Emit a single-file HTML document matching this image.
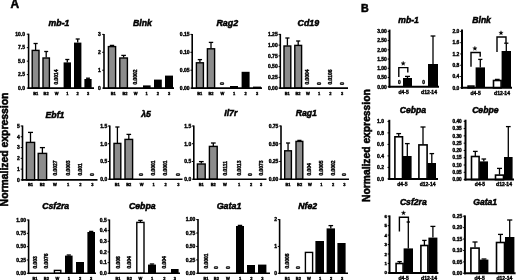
<!DOCTYPE html>
<html><head><meta charset="utf-8"><title>Figure</title>
<style>
html,body{margin:0;padding:0;background:#fff;}
body{width:520px;height:280px;overflow:hidden;font-family:"Liberation Sans",sans-serif;}
svg{display:block;will-change:transform;font-family:"Liberation Sans",sans-serif;}
svg text{font-weight:bold;fill:#000;stroke:#000;}
svg line,svg polyline{stroke:#000;}
</style></head><body>
<svg width="520" height="280" viewBox="0 0 520 280">
<rect x="0" y="0" width="520" height="280" fill="#fff"/>
<text x="59.00" y="26.00" font-size="8.7" text-anchor="middle" font-style="italic" stroke-width="0.5">mb-1</text>
<line x1="35.60" y1="43.50" x2="35.60" y2="50.00" stroke-width="1.3"/>
<line x1="33.51" y1="43.50" x2="37.69" y2="43.50" stroke-width="1.3"/>
<rect x="32.20" y="50.40" width="6.80" height="37.70" fill="#8c8c8c" stroke="#000" stroke-width="1.4"/>
<line x1="46.20" y1="51.50" x2="46.20" y2="57.60" stroke-width="1.3"/>
<line x1="44.22" y1="51.50" x2="48.18" y2="51.50" stroke-width="1.3"/>
<rect x="43.00" y="58.00" width="6.40" height="30.10" fill="#8c8c8c" stroke="#000" stroke-width="1.4"/>
<text x="58.36" y="84.50" font-size="4.9" text-anchor="start" transform="rotate(-90 58.36 84.50)" stroke-width="0.38">0.0014</text>
<line x1="67.30" y1="59.50" x2="67.30" y2="62.40" stroke-width="1.3"/>
<line x1="65.27" y1="59.50" x2="69.33" y2="59.50" stroke-width="1.3"/>
<rect x="63.60" y="62.40" width="7.40" height="25.70" fill="#000"/>
<line x1="77.70" y1="39.00" x2="77.70" y2="42.60" stroke-width="1.3"/>
<line x1="75.67" y1="39.00" x2="79.73" y2="39.00" stroke-width="1.3"/>
<rect x="74.00" y="42.60" width="7.40" height="45.50" fill="#000"/>
<line x1="88.00" y1="78.20" x2="88.00" y2="79.00" stroke-width="1.3"/>
<line x1="86.02" y1="78.20" x2="89.98" y2="78.20" stroke-width="1.3"/>
<rect x="84.40" y="79.00" width="7.20" height="9.10" fill="#000"/>
<line x1="28.60" y1="33.70" x2="28.60" y2="88.90" stroke-width="1.6"/>
<line x1="27.80" y1="88.10" x2="94.00" y2="88.10" stroke-width="1.6"/>
<line x1="26.80" y1="34.20" x2="28.60" y2="34.20" stroke-width="1.0"/>
<text x="25.00" y="36.00" font-size="5.0" text-anchor="end" stroke-width="0.38">10.0</text>
<line x1="26.80" y1="47.67" x2="28.60" y2="47.67" stroke-width="1.0"/>
<text x="25.00" y="49.47" font-size="5.0" text-anchor="end" stroke-width="0.38">7.5</text>
<line x1="26.80" y1="61.15" x2="28.60" y2="61.15" stroke-width="1.0"/>
<text x="25.00" y="62.95" font-size="5.0" text-anchor="end" stroke-width="0.38">5.0</text>
<line x1="26.80" y1="74.62" x2="28.60" y2="74.62" stroke-width="1.0"/>
<text x="25.00" y="76.42" font-size="5.0" text-anchor="end" stroke-width="0.38">2.5</text>
<line x1="26.80" y1="88.10" x2="28.60" y2="88.10" stroke-width="1.0"/>
<text x="25.00" y="89.90" font-size="5.0" text-anchor="end" stroke-width="0.38">0.0</text>
<text x="35.70" y="95.14" font-size="4.0" text-anchor="middle" stroke-width="0.38">B1</text>
<text x="46.10" y="95.14" font-size="4.0" text-anchor="middle" stroke-width="0.38">B2</text>
<text x="56.60" y="95.14" font-size="4.0" text-anchor="middle" stroke-width="0.38">W</text>
<text x="67.30" y="95.14" font-size="4.0" text-anchor="middle" stroke-width="0.38">1</text>
<text x="77.70" y="95.14" font-size="4.0" text-anchor="middle" stroke-width="0.38">2</text>
<text x="88.00" y="95.14" font-size="4.0" text-anchor="middle" stroke-width="0.38">3</text>
<text x="142.50" y="26.00" font-size="8.7" text-anchor="middle" font-style="italic" stroke-width="0.5">Blnk</text>
<line x1="112.00" y1="45.40" x2="112.00" y2="46.20" stroke-width="1.3"/>
<line x1="109.80" y1="45.40" x2="114.20" y2="45.40" stroke-width="1.3"/>
<rect x="108.40" y="46.60" width="7.20" height="41.50" fill="#8c8c8c" stroke="#000" stroke-width="1.4"/>
<line x1="123.60" y1="55.40" x2="123.60" y2="57.60" stroke-width="1.3"/>
<line x1="121.29" y1="55.40" x2="125.91" y2="55.40" stroke-width="1.3"/>
<rect x="119.80" y="58.00" width="7.60" height="30.10" fill="#8c8c8c" stroke="#000" stroke-width="1.4"/>
<text x="137.36" y="84.50" font-size="4.9" text-anchor="start" transform="rotate(-90 137.36 84.50)" stroke-width="0.38">0.0002</text>
<rect x="143.00" y="85.40" width="7.60" height="2.70" fill="#000"/>
<rect x="154.00" y="79.60" width="7.80" height="8.50" fill="#000"/>
<rect x="165.00" y="75.60" width="8.00" height="12.50" fill="#000"/>
<line x1="104.00" y1="33.90" x2="104.00" y2="88.90" stroke-width="1.6"/>
<line x1="103.20" y1="88.10" x2="174.00" y2="88.10" stroke-width="1.6"/>
<line x1="102.20" y1="34.40" x2="104.00" y2="34.40" stroke-width="1.0"/>
<text x="100.80" y="36.20" font-size="5.0" text-anchor="end" stroke-width="0.38">3</text>
<line x1="102.20" y1="52.30" x2="104.00" y2="52.30" stroke-width="1.0"/>
<text x="100.80" y="54.10" font-size="5.0" text-anchor="end" stroke-width="0.38">2</text>
<line x1="102.20" y1="70.20" x2="104.00" y2="70.20" stroke-width="1.0"/>
<text x="100.80" y="72.00" font-size="5.0" text-anchor="end" stroke-width="0.38">1</text>
<line x1="102.20" y1="88.10" x2="104.00" y2="88.10" stroke-width="1.0"/>
<text x="100.80" y="89.90" font-size="5.0" text-anchor="end" stroke-width="0.38">0</text>
<text x="113.20" y="95.14" font-size="4.0" text-anchor="middle" stroke-width="0.38">B1</text>
<text x="125.00" y="95.14" font-size="4.0" text-anchor="middle" stroke-width="0.38">B2</text>
<text x="135.60" y="95.14" font-size="4.0" text-anchor="middle" stroke-width="0.38">W</text>
<text x="146.70" y="95.14" font-size="4.0" text-anchor="middle" stroke-width="0.38">1</text>
<text x="157.80" y="95.14" font-size="4.0" text-anchor="middle" stroke-width="0.38">2</text>
<text x="169.00" y="95.14" font-size="4.0" text-anchor="middle" stroke-width="0.38">3</text>
<text x="227.30" y="25.60" font-size="8.9" text-anchor="middle" font-style="italic" stroke-width="0.5">Rag2</text>
<line x1="199.90" y1="59.60" x2="199.90" y2="62.40" stroke-width="1.3"/>
<line x1="197.75" y1="59.60" x2="202.05" y2="59.60" stroke-width="1.3"/>
<rect x="196.40" y="62.80" width="7.00" height="25.30" fill="#8c8c8c" stroke="#000" stroke-width="1.4"/>
<line x1="211.00" y1="42.40" x2="211.00" y2="48.40" stroke-width="1.3"/>
<line x1="208.80" y1="42.40" x2="213.20" y2="42.40" stroke-width="1.3"/>
<rect x="207.40" y="48.80" width="7.20" height="39.30" fill="#8c8c8c" stroke="#000" stroke-width="1.4"/>
<text x="224.16" y="85.00" font-size="4.9" text-anchor="start" transform="rotate(-90 224.16 85.00)" stroke-width="0.38">0</text>
<rect x="230.00" y="86.00" width="8.00" height="2.10" fill="#000"/>
<rect x="241.60" y="71.80" width="8.00" height="16.30" fill="#000"/>
<rect x="253.00" y="86.60" width="8.00" height="1.50" fill="#000"/>
<line x1="192.20" y1="33.90" x2="192.20" y2="88.90" stroke-width="1.6"/>
<line x1="191.40" y1="88.10" x2="262.00" y2="88.10" stroke-width="1.6"/>
<line x1="190.40" y1="34.40" x2="192.20" y2="34.40" stroke-width="1.0"/>
<text x="189.60" y="36.20" font-size="5.0" text-anchor="end" stroke-width="0.38">0.15</text>
<line x1="190.40" y1="52.30" x2="192.20" y2="52.30" stroke-width="1.0"/>
<text x="189.60" y="54.10" font-size="5.0" text-anchor="end" stroke-width="0.38">0.10</text>
<line x1="190.40" y1="70.20" x2="192.20" y2="70.20" stroke-width="1.0"/>
<text x="189.60" y="72.00" font-size="5.0" text-anchor="end" stroke-width="0.38">0.05</text>
<line x1="190.40" y1="88.10" x2="192.20" y2="88.10" stroke-width="1.0"/>
<text x="189.60" y="89.90" font-size="5.0" text-anchor="end" stroke-width="0.38">0.00</text>
<text x="199.80" y="95.14" font-size="4.0" text-anchor="middle" stroke-width="0.38">B1</text>
<text x="211.00" y="95.14" font-size="4.0" text-anchor="middle" stroke-width="0.38">B2</text>
<text x="222.40" y="95.14" font-size="4.0" text-anchor="middle" stroke-width="0.38">W</text>
<text x="234.00" y="95.14" font-size="4.0" text-anchor="middle" stroke-width="0.38">1</text>
<text x="245.60" y="95.14" font-size="4.0" text-anchor="middle" stroke-width="0.38">2</text>
<text x="257.00" y="95.14" font-size="4.0" text-anchor="middle" stroke-width="0.38">3</text>
<text x="308.30" y="25.60" font-size="8.8" text-anchor="middle" font-style="italic" stroke-width="0.5">Cd19</text>
<line x1="287.40" y1="38.00" x2="287.40" y2="45.60" stroke-width="1.3"/>
<line x1="285.31" y1="38.00" x2="289.49" y2="38.00" stroke-width="1.3"/>
<rect x="284.00" y="46.00" width="6.80" height="42.10" fill="#8c8c8c" stroke="#000" stroke-width="1.4"/>
<line x1="298.20" y1="41.00" x2="298.20" y2="45.00" stroke-width="1.3"/>
<line x1="296.11" y1="41.00" x2="300.29" y2="41.00" stroke-width="1.3"/>
<rect x="294.80" y="45.40" width="6.80" height="42.70" fill="#8c8c8c" stroke="#000" stroke-width="1.4"/>
<text x="309.16" y="84.50" font-size="4.9" text-anchor="start" transform="rotate(-90 309.16 84.50)" stroke-width="0.38">0.0004</text>
<text x="320.76" y="85.00" font-size="4.9" text-anchor="start" transform="rotate(-90 320.76 85.00)" stroke-width="0.38">0</text>
<text x="332.16" y="84.50" font-size="4.9" text-anchor="start" transform="rotate(-90 332.16 84.50)" stroke-width="0.38">0.0106</text>
<text x="343.76" y="85.00" font-size="4.9" text-anchor="start" transform="rotate(-90 343.76 85.00)" stroke-width="0.38">0</text>
<line x1="280.30" y1="33.90" x2="280.30" y2="88.90" stroke-width="1.6"/>
<line x1="279.50" y1="88.10" x2="348.00" y2="88.10" stroke-width="1.6"/>
<line x1="278.50" y1="34.40" x2="280.30" y2="34.40" stroke-width="1.0"/>
<text x="277.70" y="36.20" font-size="5.0" text-anchor="end" stroke-width="0.38">1.25</text>
<line x1="278.50" y1="45.14" x2="280.30" y2="45.14" stroke-width="1.0"/>
<text x="277.70" y="46.94" font-size="5.0" text-anchor="end" stroke-width="0.38">1.00</text>
<line x1="278.50" y1="55.88" x2="280.30" y2="55.88" stroke-width="1.0"/>
<text x="277.70" y="57.68" font-size="5.0" text-anchor="end" stroke-width="0.38">0.75</text>
<line x1="278.50" y1="66.62" x2="280.30" y2="66.62" stroke-width="1.0"/>
<text x="277.70" y="68.42" font-size="5.0" text-anchor="end" stroke-width="0.38">0.50</text>
<line x1="278.50" y1="77.36" x2="280.30" y2="77.36" stroke-width="1.0"/>
<text x="277.70" y="79.16" font-size="5.0" text-anchor="end" stroke-width="0.38">0.25</text>
<line x1="278.50" y1="88.10" x2="280.30" y2="88.10" stroke-width="1.0"/>
<text x="277.70" y="89.90" font-size="5.0" text-anchor="end" stroke-width="0.38">0.00</text>
<text x="287.30" y="95.14" font-size="4.0" text-anchor="middle" stroke-width="0.38">B1</text>
<text x="298.00" y="95.14" font-size="4.0" text-anchor="middle" stroke-width="0.38">B2</text>
<text x="308.00" y="95.14" font-size="4.0" text-anchor="middle" stroke-width="0.38">W</text>
<text x="319.00" y="95.14" font-size="4.0" text-anchor="middle" stroke-width="0.38">1</text>
<text x="330.40" y="95.14" font-size="4.0" text-anchor="middle" stroke-width="0.38">2</text>
<text x="342.00" y="95.14" font-size="4.0" text-anchor="middle" stroke-width="0.38">3</text>
<text x="55.00" y="118.00" font-size="8.7" text-anchor="middle" font-style="italic" stroke-width="0.5">Ebf1</text>
<line x1="30.50" y1="132.40" x2="30.50" y2="142.00" stroke-width="1.3"/>
<line x1="28.02" y1="132.40" x2="32.98" y2="132.40" stroke-width="1.3"/>
<rect x="26.40" y="142.40" width="8.20" height="37.50" fill="#8c8c8c" stroke="#000" stroke-width="1.4"/>
<line x1="42.40" y1="147.60" x2="42.40" y2="153.00" stroke-width="1.3"/>
<line x1="39.87" y1="147.60" x2="44.93" y2="147.60" stroke-width="1.3"/>
<rect x="38.20" y="153.40" width="8.40" height="26.50" fill="#8c8c8c" stroke="#000" stroke-width="1.4"/>
<text x="56.76" y="175.50" font-size="4.9" text-anchor="start" transform="rotate(-90 56.76 175.50)" stroke-width="0.38">0.0027</text>
<text x="69.76" y="175.50" font-size="4.9" text-anchor="start" transform="rotate(-90 69.76 175.50)" stroke-width="0.38">0.0003</text>
<text x="82.16" y="175.50" font-size="4.9" text-anchor="start" transform="rotate(-90 82.16 175.50)" stroke-width="0.38">0.001</text>
<text x="94.16" y="176.00" font-size="4.9" text-anchor="start" transform="rotate(-90 94.16 176.00)" stroke-width="0.38">0</text>
<line x1="22.50" y1="125.50" x2="22.50" y2="180.70" stroke-width="1.6"/>
<line x1="21.70" y1="179.90" x2="97.50" y2="179.90" stroke-width="1.6"/>
<line x1="20.70" y1="126.00" x2="22.50" y2="126.00" stroke-width="1.0"/>
<text x="19.90" y="127.80" font-size="5.0" text-anchor="end" stroke-width="0.38">5</text>
<line x1="20.70" y1="136.78" x2="22.50" y2="136.78" stroke-width="1.0"/>
<text x="19.90" y="138.58" font-size="5.0" text-anchor="end" stroke-width="0.38">4</text>
<line x1="20.70" y1="147.56" x2="22.50" y2="147.56" stroke-width="1.0"/>
<text x="19.90" y="149.36" font-size="5.0" text-anchor="end" stroke-width="0.38">3</text>
<line x1="20.70" y1="158.34" x2="22.50" y2="158.34" stroke-width="1.0"/>
<text x="19.90" y="160.14" font-size="5.0" text-anchor="end" stroke-width="0.38">2</text>
<line x1="20.70" y1="169.12" x2="22.50" y2="169.12" stroke-width="1.0"/>
<text x="19.90" y="170.92" font-size="5.0" text-anchor="end" stroke-width="0.38">1</text>
<line x1="20.70" y1="179.90" x2="22.50" y2="179.90" stroke-width="1.0"/>
<text x="19.90" y="181.70" font-size="5.0" text-anchor="end" stroke-width="0.38">0</text>
<text x="30.50" y="186.44" font-size="4.0" text-anchor="middle" stroke-width="0.38">B1</text>
<text x="42.30" y="186.44" font-size="4.0" text-anchor="middle" stroke-width="0.38">B2</text>
<text x="55.00" y="186.44" font-size="4.0" text-anchor="middle" stroke-width="0.38">W</text>
<text x="68.00" y="186.44" font-size="4.0" text-anchor="middle" stroke-width="0.38">1</text>
<text x="80.40" y="186.44" font-size="4.0" text-anchor="middle" stroke-width="0.38">2</text>
<text x="92.40" y="186.44" font-size="4.0" text-anchor="middle" stroke-width="0.38">3</text>
<text x="146.00" y="116.60" font-size="8.7" text-anchor="middle" font-style="italic" stroke-width="0.5">λ5</text>
<line x1="117.40" y1="127.00" x2="117.40" y2="143.00" stroke-width="1.3"/>
<line x1="115.31" y1="127.00" x2="119.49" y2="127.00" stroke-width="1.3"/>
<rect x="114.00" y="143.40" width="6.80" height="35.80" fill="#8c8c8c" stroke="#000" stroke-width="1.4"/>
<line x1="128.80" y1="134.40" x2="128.80" y2="139.00" stroke-width="1.3"/>
<line x1="126.49" y1="134.40" x2="131.11" y2="134.40" stroke-width="1.3"/>
<rect x="125.00" y="139.40" width="7.60" height="39.80" fill="#8c8c8c" stroke="#000" stroke-width="1.4"/>
<text x="143.36" y="176.00" font-size="4.9" text-anchor="start" transform="rotate(-90 143.36 176.00)" stroke-width="0.38">0</text>
<text x="155.36" y="175.50" font-size="4.9" text-anchor="start" transform="rotate(-90 155.36 175.50)" stroke-width="0.38">0.0001</text>
<text x="167.36" y="175.50" font-size="4.9" text-anchor="start" transform="rotate(-90 167.36 175.50)" stroke-width="0.38">0.0001</text>
<text x="180.06" y="176.00" font-size="4.9" text-anchor="start" transform="rotate(-90 180.06 176.00)" stroke-width="0.38">0</text>
<line x1="109.80" y1="125.50" x2="109.80" y2="180.00" stroke-width="1.6"/>
<line x1="109.00" y1="179.20" x2="182.50" y2="179.20" stroke-width="1.6"/>
<line x1="108.00" y1="126.00" x2="109.80" y2="126.00" stroke-width="1.0"/>
<text x="107.20" y="127.80" font-size="5.0" text-anchor="end" stroke-width="0.38">1.5</text>
<line x1="108.00" y1="143.73" x2="109.80" y2="143.73" stroke-width="1.0"/>
<text x="107.20" y="145.53" font-size="5.0" text-anchor="end" stroke-width="0.38">1.0</text>
<line x1="108.00" y1="161.47" x2="109.80" y2="161.47" stroke-width="1.0"/>
<text x="107.20" y="163.27" font-size="5.0" text-anchor="end" stroke-width="0.38">0.5</text>
<line x1="108.00" y1="179.20" x2="109.80" y2="179.20" stroke-width="1.0"/>
<text x="107.20" y="181.00" font-size="5.0" text-anchor="end" stroke-width="0.38">0.0</text>
<text x="117.30" y="186.44" font-size="4.0" text-anchor="middle" stroke-width="0.38">B1</text>
<text x="128.70" y="186.44" font-size="4.0" text-anchor="middle" stroke-width="0.38">B2</text>
<text x="141.60" y="186.44" font-size="4.0" text-anchor="middle" stroke-width="0.38">W</text>
<text x="153.60" y="186.44" font-size="4.0" text-anchor="middle" stroke-width="0.38">1</text>
<text x="165.60" y="186.44" font-size="4.0" text-anchor="middle" stroke-width="0.38">2</text>
<text x="178.40" y="186.44" font-size="4.0" text-anchor="middle" stroke-width="0.38">3</text>
<text x="230.80" y="116.00" font-size="8.7" text-anchor="middle" font-style="italic" stroke-width="0.5">Il7r</text>
<line x1="201.30" y1="161.60" x2="201.30" y2="163.60" stroke-width="1.3"/>
<line x1="198.94" y1="161.60" x2="203.67" y2="161.60" stroke-width="1.3"/>
<rect x="197.40" y="164.00" width="7.80" height="15.20" fill="#8c8c8c" stroke="#000" stroke-width="1.4"/>
<line x1="213.30" y1="143.00" x2="213.30" y2="146.00" stroke-width="1.3"/>
<line x1="210.94" y1="143.00" x2="215.67" y2="143.00" stroke-width="1.3"/>
<rect x="209.40" y="146.40" width="7.80" height="32.80" fill="#8c8c8c" stroke="#000" stroke-width="1.4"/>
<text x="226.76" y="175.50" font-size="4.9" text-anchor="start" transform="rotate(-90 226.76 175.50)" stroke-width="0.38">0.0111</text>
<text x="240.76" y="175.50" font-size="4.9" text-anchor="start" transform="rotate(-90 240.76 175.50)" stroke-width="0.38">0.0013</text>
<text x="251.76" y="176.00" font-size="4.9" text-anchor="start" transform="rotate(-90 251.76 176.00)" stroke-width="0.38">0</text>
<text x="262.76" y="175.50" font-size="4.9" text-anchor="start" transform="rotate(-90 262.76 175.50)" stroke-width="0.38">0.0073</text>
<line x1="193.80" y1="125.50" x2="193.80" y2="180.00" stroke-width="1.6"/>
<line x1="193.00" y1="179.20" x2="266.50" y2="179.20" stroke-width="1.6"/>
<line x1="192.00" y1="126.00" x2="193.80" y2="126.00" stroke-width="1.0"/>
<text x="191.20" y="127.80" font-size="5.0" text-anchor="end" stroke-width="0.38">1.5</text>
<line x1="192.00" y1="143.73" x2="193.80" y2="143.73" stroke-width="1.0"/>
<text x="191.20" y="145.53" font-size="5.0" text-anchor="end" stroke-width="0.38">1.0</text>
<line x1="192.00" y1="161.47" x2="193.80" y2="161.47" stroke-width="1.0"/>
<text x="191.20" y="163.27" font-size="5.0" text-anchor="end" stroke-width="0.38">0.5</text>
<line x1="192.00" y1="179.20" x2="193.80" y2="179.20" stroke-width="1.0"/>
<text x="191.20" y="181.00" font-size="5.0" text-anchor="end" stroke-width="0.38">0.0</text>
<text x="201.30" y="186.44" font-size="4.0" text-anchor="middle" stroke-width="0.38">B1</text>
<text x="213.30" y="186.44" font-size="4.0" text-anchor="middle" stroke-width="0.38">B2</text>
<text x="225.00" y="186.44" font-size="4.0" text-anchor="middle" stroke-width="0.38">W</text>
<text x="239.00" y="186.44" font-size="4.0" text-anchor="middle" stroke-width="0.38">1</text>
<text x="251.00" y="186.44" font-size="4.0" text-anchor="middle" stroke-width="0.38">2</text>
<text x="261.00" y="186.44" font-size="4.0" text-anchor="middle" stroke-width="0.38">3</text>
<text x="306.30" y="115.70" font-size="8.7" text-anchor="middle" font-style="italic" stroke-width="0.5">Rag1</text>
<line x1="288.05" y1="143.00" x2="288.05" y2="150.40" stroke-width="1.3"/>
<line x1="285.99" y1="143.00" x2="290.11" y2="143.00" stroke-width="1.3"/>
<rect x="284.70" y="150.80" width="6.70" height="28.40" fill="#8c8c8c" stroke="#000" stroke-width="1.4"/>
<line x1="299.40" y1="140.40" x2="299.40" y2="141.00" stroke-width="1.3"/>
<line x1="297.31" y1="140.40" x2="301.49" y2="140.40" stroke-width="1.3"/>
<rect x="296.00" y="141.40" width="6.80" height="37.80" fill="#8c8c8c" stroke="#000" stroke-width="1.4"/>
<text x="311.36" y="175.50" font-size="4.9" text-anchor="start" transform="rotate(-90 311.36 175.50)" stroke-width="0.38">0.004</text>
<text x="323.16" y="175.50" font-size="4.9" text-anchor="start" transform="rotate(-90 323.16 175.50)" stroke-width="0.38">0.0005</text>
<text x="334.76" y="175.50" font-size="4.9" text-anchor="start" transform="rotate(-90 334.76 175.50)" stroke-width="0.38">0.0002</text>
<text x="346.16" y="176.00" font-size="4.9" text-anchor="start" transform="rotate(-90 346.16 176.00)" stroke-width="0.38">0</text>
<line x1="281.00" y1="125.50" x2="281.00" y2="180.00" stroke-width="1.6"/>
<line x1="280.20" y1="179.20" x2="349.00" y2="179.20" stroke-width="1.6"/>
<line x1="279.20" y1="126.00" x2="281.00" y2="126.00" stroke-width="1.0"/>
<text x="278.40" y="127.80" font-size="5.0" text-anchor="end" stroke-width="0.38">0.75</text>
<line x1="279.20" y1="143.73" x2="281.00" y2="143.73" stroke-width="1.0"/>
<text x="278.40" y="145.53" font-size="5.0" text-anchor="end" stroke-width="0.38">0.50</text>
<line x1="279.20" y1="161.47" x2="281.00" y2="161.47" stroke-width="1.0"/>
<text x="278.40" y="163.27" font-size="5.0" text-anchor="end" stroke-width="0.38">0.25</text>
<line x1="279.20" y1="179.20" x2="281.00" y2="179.20" stroke-width="1.0"/>
<text x="278.40" y="181.00" font-size="5.0" text-anchor="end" stroke-width="0.38">0.00</text>
<text x="288.00" y="186.44" font-size="4.0" text-anchor="middle" stroke-width="0.38">B1</text>
<text x="299.60" y="186.44" font-size="4.0" text-anchor="middle" stroke-width="0.38">B2</text>
<text x="310.00" y="186.44" font-size="4.0" text-anchor="middle" stroke-width="0.38">W</text>
<text x="321.40" y="186.44" font-size="4.0" text-anchor="middle" stroke-width="0.38">1</text>
<text x="333.00" y="186.44" font-size="4.0" text-anchor="middle" stroke-width="0.38">2</text>
<text x="344.40" y="186.44" font-size="4.0" text-anchor="middle" stroke-width="0.38">3</text>
<text x="55.70" y="208.60" font-size="8.6" text-anchor="middle" font-style="italic" stroke-width="0.5">Csf2ra</text>
<text x="36.76" y="268.50" font-size="4.9" text-anchor="start" transform="rotate(-90 36.76 268.50)" stroke-width="0.38">0.003</text>
<text x="48.16" y="268.50" font-size="4.9" text-anchor="start" transform="rotate(-90 48.16 268.50)" stroke-width="0.38">0.0076</text>
<rect x="54.40" y="270.40" width="6.40" height="2.90" fill="#fff" stroke="#000" stroke-width="1.4"/>
<line x1="68.80" y1="255.00" x2="68.80" y2="255.60" stroke-width="1.3"/>
<line x1="66.71" y1="255.00" x2="70.89" y2="255.00" stroke-width="1.3"/>
<rect x="65.00" y="255.60" width="7.60" height="17.70" fill="#000"/>
<rect x="76.00" y="262.00" width="8.00" height="11.30" fill="#000"/>
<line x1="91.20" y1="231.40" x2="91.20" y2="232.00" stroke-width="1.3"/>
<line x1="89.11" y1="231.40" x2="93.29" y2="231.40" stroke-width="1.3"/>
<rect x="87.40" y="232.00" width="7.60" height="41.30" fill="#000"/>
<line x1="28.60" y1="219.50" x2="28.60" y2="274.10" stroke-width="1.6"/>
<line x1="27.80" y1="273.30" x2="96.00" y2="273.30" stroke-width="1.6"/>
<line x1="26.80" y1="220.00" x2="28.60" y2="220.00" stroke-width="1.0"/>
<text x="26.00" y="221.80" font-size="5.0" text-anchor="end" stroke-width="0.38">1.00</text>
<line x1="26.80" y1="233.32" x2="28.60" y2="233.32" stroke-width="1.0"/>
<text x="26.00" y="235.12" font-size="5.0" text-anchor="end" stroke-width="0.38">0.75</text>
<line x1="26.80" y1="246.65" x2="28.60" y2="246.65" stroke-width="1.0"/>
<text x="26.00" y="248.45" font-size="5.0" text-anchor="end" stroke-width="0.38">0.50</text>
<line x1="26.80" y1="259.98" x2="28.60" y2="259.98" stroke-width="1.0"/>
<text x="26.00" y="261.78" font-size="5.0" text-anchor="end" stroke-width="0.38">0.25</text>
<line x1="26.80" y1="273.30" x2="28.60" y2="273.30" stroke-width="1.0"/>
<text x="26.00" y="275.10" font-size="5.0" text-anchor="end" stroke-width="0.38">0.00</text>
<text x="35.00" y="279.84" font-size="4.0" text-anchor="middle" stroke-width="0.38">B1</text>
<text x="46.40" y="279.84" font-size="4.0" text-anchor="middle" stroke-width="0.38">B2</text>
<text x="57.50" y="279.84" font-size="4.0" text-anchor="middle" stroke-width="0.38">W</text>
<text x="68.80" y="279.84" font-size="4.0" text-anchor="middle" stroke-width="0.38">1</text>
<text x="80.00" y="279.84" font-size="4.0" text-anchor="middle" stroke-width="0.38">2</text>
<text x="91.20" y="279.84" font-size="4.0" text-anchor="middle" stroke-width="0.38">3</text>
<text x="142.30" y="209.10" font-size="8.7" text-anchor="middle" font-style="italic" stroke-width="0.5">Cebpa</text>
<text x="119.76" y="268.50" font-size="4.9" text-anchor="start" transform="rotate(-90 119.76 268.50)" stroke-width="0.38">0.008</text>
<text x="131.16" y="268.50" font-size="4.9" text-anchor="start" transform="rotate(-90 131.16 268.50)" stroke-width="0.38">0.004</text>
<line x1="140.40" y1="220.40" x2="140.40" y2="222.00" stroke-width="1.3"/>
<line x1="138.20" y1="220.40" x2="142.60" y2="220.40" stroke-width="1.3"/>
<rect x="136.80" y="222.40" width="7.20" height="50.90" fill="#fff" stroke="#000" stroke-width="1.4"/>
<line x1="152.00" y1="264.00" x2="152.00" y2="264.60" stroke-width="1.3"/>
<line x1="149.80" y1="264.00" x2="154.20" y2="264.00" stroke-width="1.3"/>
<rect x="148.00" y="264.60" width="8.00" height="8.70" fill="#000"/>
<text x="166.16" y="268.50" font-size="4.9" text-anchor="start" transform="rotate(-90 166.16 268.50)" stroke-width="0.38">0.004</text>
<rect x="171.00" y="269.00" width="7.60" height="4.30" fill="#000"/>
<line x1="109.40" y1="219.50" x2="109.40" y2="274.10" stroke-width="1.6"/>
<line x1="108.60" y1="273.30" x2="180.00" y2="273.30" stroke-width="1.6"/>
<line x1="107.60" y1="220.00" x2="109.40" y2="220.00" stroke-width="1.0"/>
<text x="106.80" y="221.80" font-size="5.0" text-anchor="end" stroke-width="0.38">0.5</text>
<line x1="107.60" y1="230.66" x2="109.40" y2="230.66" stroke-width="1.0"/>
<text x="106.80" y="232.46" font-size="5.0" text-anchor="end" stroke-width="0.38">0.4</text>
<line x1="107.60" y1="241.32" x2="109.40" y2="241.32" stroke-width="1.0"/>
<text x="106.80" y="243.12" font-size="5.0" text-anchor="end" stroke-width="0.38">0.3</text>
<line x1="107.60" y1="251.98" x2="109.40" y2="251.98" stroke-width="1.0"/>
<text x="106.80" y="253.78" font-size="5.0" text-anchor="end" stroke-width="0.38">0.2</text>
<line x1="107.60" y1="262.64" x2="109.40" y2="262.64" stroke-width="1.0"/>
<text x="106.80" y="264.44" font-size="5.0" text-anchor="end" stroke-width="0.38">0.1</text>
<line x1="107.60" y1="273.30" x2="109.40" y2="273.30" stroke-width="1.0"/>
<text x="106.80" y="275.10" font-size="5.0" text-anchor="end" stroke-width="0.38">0.0</text>
<text x="118.00" y="279.84" font-size="4.0" text-anchor="middle" stroke-width="0.38">B1</text>
<text x="129.40" y="279.84" font-size="4.0" text-anchor="middle" stroke-width="0.38">B2</text>
<text x="140.40" y="279.84" font-size="4.0" text-anchor="middle" stroke-width="0.38">W</text>
<text x="152.00" y="279.84" font-size="4.0" text-anchor="middle" stroke-width="0.38">1</text>
<text x="164.40" y="279.84" font-size="4.0" text-anchor="middle" stroke-width="0.38">2</text>
<text x="174.80" y="279.84" font-size="4.0" text-anchor="middle" stroke-width="0.38">3</text>
<text x="229.00" y="208.80" font-size="8.9" text-anchor="middle" font-style="italic" stroke-width="0.5">Gata1</text>
<text x="208.36" y="268.50" font-size="4.9" text-anchor="start" transform="rotate(-90 208.36 268.50)" stroke-width="0.38">0.0001</text>
<text x="218.16" y="269.00" font-size="4.9" text-anchor="start" transform="rotate(-90 218.16 269.00)" stroke-width="0.38">0</text>
<text x="229.76" y="269.00" font-size="4.9" text-anchor="start" transform="rotate(-90 229.76 269.00)" stroke-width="0.38">0</text>
<line x1="240.00" y1="225.40" x2="240.00" y2="226.00" stroke-width="1.3"/>
<line x1="237.80" y1="225.40" x2="242.20" y2="225.40" stroke-width="1.3"/>
<rect x="236.00" y="226.00" width="8.00" height="47.30" fill="#000"/>
<rect x="247.00" y="265.00" width="8.00" height="8.30" fill="#000"/>
<rect x="258.00" y="264.60" width="8.40" height="8.70" fill="#000"/>
<line x1="198.00" y1="219.10" x2="198.00" y2="274.10" stroke-width="1.6"/>
<line x1="197.20" y1="273.30" x2="270.00" y2="273.30" stroke-width="1.6"/>
<line x1="196.20" y1="219.60" x2="198.00" y2="219.60" stroke-width="1.0"/>
<text x="195.40" y="221.40" font-size="5.0" text-anchor="end" stroke-width="0.38">1.00</text>
<line x1="196.20" y1="233.03" x2="198.00" y2="233.03" stroke-width="1.0"/>
<text x="195.40" y="234.83" font-size="5.0" text-anchor="end" stroke-width="0.38">0.75</text>
<line x1="196.20" y1="246.45" x2="198.00" y2="246.45" stroke-width="1.0"/>
<text x="195.40" y="248.25" font-size="5.0" text-anchor="end" stroke-width="0.38">0.50</text>
<line x1="196.20" y1="259.88" x2="198.00" y2="259.88" stroke-width="1.0"/>
<text x="195.40" y="261.68" font-size="5.0" text-anchor="end" stroke-width="0.38">0.25</text>
<line x1="196.20" y1="273.30" x2="198.00" y2="273.30" stroke-width="1.0"/>
<text x="195.40" y="275.10" font-size="5.0" text-anchor="end" stroke-width="0.38">0.00</text>
<text x="206.00" y="279.84" font-size="4.0" text-anchor="middle" stroke-width="0.38">B1</text>
<text x="216.40" y="279.84" font-size="4.0" text-anchor="middle" stroke-width="0.38">B2</text>
<text x="228.00" y="279.84" font-size="4.0" text-anchor="middle" stroke-width="0.38">W</text>
<text x="240.00" y="279.84" font-size="4.0" text-anchor="middle" stroke-width="0.38">1</text>
<text x="251.40" y="279.84" font-size="4.0" text-anchor="middle" stroke-width="0.38">2</text>
<text x="262.40" y="279.84" font-size="4.0" text-anchor="middle" stroke-width="0.38">3</text>
<text x="307.70" y="208.90" font-size="8.7" text-anchor="middle" font-style="italic" stroke-width="0.5">Nfe2</text>
<text x="288.76" y="268.50" font-size="4.9" text-anchor="start" transform="rotate(-90 288.76 268.50)" stroke-width="0.38">0.0008</text>
<text x="300.16" y="269.00" font-size="4.9" text-anchor="start" transform="rotate(-90 300.16 269.00)" stroke-width="0.38">0</text>
<rect x="305.40" y="252.40" width="7.20" height="20.90" fill="#fff" stroke="#000" stroke-width="1.4"/>
<rect x="315.40" y="241.00" width="8.60" height="32.30" fill="#000"/>
<line x1="330.80" y1="225.60" x2="330.80" y2="228.40" stroke-width="1.3"/>
<line x1="328.49" y1="225.60" x2="333.11" y2="225.60" stroke-width="1.3"/>
<rect x="326.60" y="228.40" width="8.40" height="44.90" fill="#000"/>
<rect x="337.40" y="243.00" width="8.20" height="30.30" fill="#000"/>
<line x1="279.60" y1="219.10" x2="279.60" y2="274.10" stroke-width="1.6"/>
<line x1="278.80" y1="273.30" x2="348.00" y2="273.30" stroke-width="1.6"/>
<line x1="277.80" y1="219.60" x2="279.60" y2="219.60" stroke-width="1.0"/>
<text x="277.00" y="221.40" font-size="5.0" text-anchor="end" stroke-width="0.38">2</text>
<line x1="277.80" y1="246.45" x2="279.60" y2="246.45" stroke-width="1.0"/>
<text x="277.00" y="248.25" font-size="5.0" text-anchor="end" stroke-width="0.38">1</text>
<line x1="277.80" y1="273.30" x2="279.60" y2="273.30" stroke-width="1.0"/>
<text x="277.00" y="275.10" font-size="5.0" text-anchor="end" stroke-width="0.38">0</text>
<text x="287.40" y="279.84" font-size="4.0" text-anchor="middle" stroke-width="0.38">B1</text>
<text x="298.40" y="279.84" font-size="4.0" text-anchor="middle" stroke-width="0.38">B2</text>
<text x="309.00" y="279.84" font-size="4.0" text-anchor="middle" stroke-width="0.38">W</text>
<text x="320.00" y="279.84" font-size="4.0" text-anchor="middle" stroke-width="0.38">1</text>
<text x="331.00" y="279.84" font-size="4.0" text-anchor="middle" stroke-width="0.38">2</text>
<text x="342.00" y="279.84" font-size="4.0" text-anchor="middle" stroke-width="0.38">3</text>
<text x="408.60" y="23.40" font-size="8.6" text-anchor="middle" font-style="italic" stroke-width="0.5">mb-1</text>
<text x="399.40" y="84.00" font-size="4.9" text-anchor="middle" stroke-width="0.38">0</text>
<line x1="407.50" y1="76.40" x2="407.50" y2="78.00" stroke-width="1.3"/>
<line x1="405.02" y1="76.40" x2="409.98" y2="76.40" stroke-width="1.3"/>
<rect x="403.00" y="78.00" width="9.00" height="8.70" fill="#000"/>
<text x="423.60" y="84.00" font-size="4.9" text-anchor="middle" stroke-width="0.38">0</text>
<line x1="433.00" y1="36.00" x2="433.00" y2="64.00" stroke-width="1.3"/>
<line x1="430.60" y1="36.00" x2="435.40" y2="36.00" stroke-width="1.3"/>
<rect x="428.00" y="64.00" width="10.00" height="22.70" fill="#000"/>
<line x1="389.50" y1="29.60" x2="389.50" y2="87.70" stroke-width="2.0"/>
<line x1="388.50" y1="86.70" x2="439.00" y2="86.70" stroke-width="2.0"/>
<line x1="387.70" y1="31.40" x2="389.50" y2="31.40" stroke-width="1.0"/>
<text x="386.90" y="33.20" font-size="5.0" text-anchor="end" stroke-width="0.38">3.00</text>
<line x1="387.70" y1="40.62" x2="389.50" y2="40.62" stroke-width="1.0"/>
<text x="386.90" y="42.42" font-size="5.0" text-anchor="end" stroke-width="0.38">2.50</text>
<line x1="387.70" y1="49.83" x2="389.50" y2="49.83" stroke-width="1.0"/>
<text x="386.90" y="51.63" font-size="5.0" text-anchor="end" stroke-width="0.38">2.00</text>
<line x1="387.70" y1="59.05" x2="389.50" y2="59.05" stroke-width="1.0"/>
<text x="386.90" y="60.85" font-size="5.0" text-anchor="end" stroke-width="0.38">1.50</text>
<line x1="387.70" y1="68.27" x2="389.50" y2="68.27" stroke-width="1.0"/>
<text x="386.90" y="70.07" font-size="5.0" text-anchor="end" stroke-width="0.38">1.00</text>
<line x1="387.70" y1="77.48" x2="389.50" y2="77.48" stroke-width="1.0"/>
<text x="386.90" y="79.28" font-size="5.0" text-anchor="end" stroke-width="0.38">0.50</text>
<line x1="387.70" y1="86.70" x2="389.50" y2="86.70" stroke-width="1.0"/>
<text x="386.90" y="88.50" font-size="5.0" text-anchor="end" stroke-width="0.38">0.00</text>
<text x="403.60" y="93.80" font-size="5.0" text-anchor="middle" stroke-width="0.38">d4-5</text>
<text x="429.00" y="93.80" font-size="5.0" text-anchor="middle" stroke-width="0.38">d12-14</text>
<polyline points="398.80,77.00 398.80,67.60 407.80,67.60 407.80,72.50" fill="none" stroke="#000" stroke-width="1.4"/>
<polygon points="403.20,61.20 403.77,62.72 405.39,62.79 404.12,63.80 404.55,65.36 403.20,64.47 401.85,65.36 402.28,63.80 401.01,62.79 402.63,62.72" fill="#000" stroke="#000" stroke-width="0.3"/>
<text x="481.60" y="23.10" font-size="8.6" text-anchor="middle" font-style="italic" stroke-width="0.5">Blnk</text>
<rect x="468.10" y="86.10" width="5.80" height="1.70" fill="#fff" stroke="#000" stroke-width="1.6"/>
<line x1="480.30" y1="59.40" x2="480.30" y2="67.40" stroke-width="1.3"/>
<line x1="478.20" y1="59.40" x2="482.40" y2="59.40" stroke-width="1.3"/>
<rect x="475.60" y="67.40" width="9.40" height="20.40" fill="#000"/>
<line x1="497.30" y1="79.40" x2="497.30" y2="80.00" stroke-width="1.3"/>
<line x1="494.94" y1="79.40" x2="499.67" y2="79.40" stroke-width="1.3"/>
<rect x="493.50" y="80.50" width="7.60" height="7.30" fill="#fff" stroke="#000" stroke-width="1.6"/>
<line x1="506.30" y1="43.20" x2="506.30" y2="51.00" stroke-width="1.3"/>
<line x1="504.20" y1="43.20" x2="508.40" y2="43.20" stroke-width="1.3"/>
<rect x="501.60" y="51.00" width="9.40" height="36.80" fill="#000"/>
<line x1="462.00" y1="29.40" x2="462.00" y2="88.80" stroke-width="2.0"/>
<line x1="461.00" y1="87.80" x2="512.00" y2="87.80" stroke-width="2.0"/>
<line x1="460.20" y1="31.40" x2="462.00" y2="31.40" stroke-width="1.0"/>
<text x="459.40" y="33.20" font-size="5.0" text-anchor="end" stroke-width="0.38">2.0</text>
<line x1="460.20" y1="42.68" x2="462.00" y2="42.68" stroke-width="1.0"/>
<text x="459.40" y="44.48" font-size="5.0" text-anchor="end" stroke-width="0.38">1.6</text>
<line x1="460.20" y1="53.96" x2="462.00" y2="53.96" stroke-width="1.0"/>
<text x="459.40" y="55.76" font-size="5.0" text-anchor="end" stroke-width="0.38">1.2</text>
<line x1="460.20" y1="65.24" x2="462.00" y2="65.24" stroke-width="1.0"/>
<text x="459.40" y="67.04" font-size="5.0" text-anchor="end" stroke-width="0.38">0.8</text>
<line x1="460.20" y1="76.52" x2="462.00" y2="76.52" stroke-width="1.0"/>
<text x="459.40" y="78.32" font-size="5.0" text-anchor="end" stroke-width="0.38">0.4</text>
<line x1="460.20" y1="87.80" x2="462.00" y2="87.80" stroke-width="1.0"/>
<text x="459.40" y="89.60" font-size="5.0" text-anchor="end" stroke-width="0.38">0.0</text>
<text x="475.60" y="95.00" font-size="5.0" text-anchor="middle" stroke-width="0.38">d4-5</text>
<text x="502.00" y="95.00" font-size="5.0" text-anchor="middle" stroke-width="0.38">d12-14</text>
<polyline points="471.00,66.80 471.00,52.50 480.20,52.50 480.20,56.80" fill="none" stroke="#000" stroke-width="1.4"/>
<polygon points="474.90,46.20 475.47,47.72 477.09,47.79 475.82,48.80 476.25,50.36 474.90,49.47 473.55,50.36 473.98,48.80 472.71,47.79 474.33,47.72" fill="#000" stroke="#000" stroke-width="0.3"/>
<polyline points="497.00,52.00 497.00,37.00 506.00,37.00 506.00,43.00" fill="none" stroke="#000" stroke-width="1.4"/>
<polygon points="501.00,30.70 501.57,32.22 503.19,32.29 501.92,33.30 502.35,34.86 501.00,33.97 499.65,34.86 500.08,33.30 498.81,32.29 500.43,32.22" fill="#000" stroke="#000" stroke-width="0.3"/>
<text x="412.90" y="112.70" font-size="8.6" text-anchor="middle" font-style="italic" stroke-width="0.5">Cebpa</text>
<line x1="398.70" y1="133.60" x2="398.70" y2="136.30" stroke-width="1.3"/>
<line x1="396.33" y1="133.60" x2="401.06" y2="133.60" stroke-width="1.3"/>
<rect x="394.90" y="136.80" width="7.60" height="42.10" fill="#fff" stroke="#000" stroke-width="1.6"/>
<line x1="407.30" y1="143.60" x2="407.30" y2="156.00" stroke-width="1.3"/>
<line x1="404.94" y1="143.60" x2="409.67" y2="143.60" stroke-width="1.3"/>
<rect x="403.00" y="156.00" width="8.60" height="22.90" fill="#000"/>
<line x1="423.00" y1="127.00" x2="423.00" y2="144.40" stroke-width="1.3"/>
<line x1="420.47" y1="127.00" x2="425.53" y2="127.00" stroke-width="1.3"/>
<rect x="418.90" y="144.90" width="8.20" height="34.00" fill="#fff" stroke="#000" stroke-width="1.6"/>
<line x1="431.80" y1="153.60" x2="431.80" y2="163.00" stroke-width="1.3"/>
<line x1="429.49" y1="153.60" x2="434.11" y2="153.60" stroke-width="1.3"/>
<rect x="427.60" y="163.00" width="8.40" height="15.90" fill="#000"/>
<line x1="389.30" y1="119.80" x2="389.30" y2="179.90" stroke-width="2.0"/>
<line x1="388.30" y1="178.90" x2="438.00" y2="178.90" stroke-width="2.0"/>
<line x1="387.50" y1="121.40" x2="389.30" y2="121.40" stroke-width="1.0"/>
<text x="384.00" y="123.20" font-size="5.0" text-anchor="end" stroke-width="0.38">1.0</text>
<line x1="387.50" y1="132.90" x2="389.30" y2="132.90" stroke-width="1.0"/>
<text x="384.00" y="134.70" font-size="5.0" text-anchor="end" stroke-width="0.38">0.8</text>
<line x1="387.50" y1="144.40" x2="389.30" y2="144.40" stroke-width="1.0"/>
<text x="384.00" y="146.20" font-size="5.0" text-anchor="end" stroke-width="0.38">0.6</text>
<line x1="387.50" y1="155.90" x2="389.30" y2="155.90" stroke-width="1.0"/>
<text x="384.00" y="157.70" font-size="5.0" text-anchor="end" stroke-width="0.38">0.4</text>
<line x1="387.50" y1="167.40" x2="389.30" y2="167.40" stroke-width="1.0"/>
<text x="384.00" y="169.20" font-size="5.0" text-anchor="end" stroke-width="0.38">0.2</text>
<line x1="387.50" y1="178.90" x2="389.30" y2="178.90" stroke-width="1.0"/>
<text x="384.00" y="180.70" font-size="5.0" text-anchor="end" stroke-width="0.38">0.0</text>
<text x="402.40" y="185.80" font-size="5.0" text-anchor="middle" stroke-width="0.38">d4-5</text>
<text x="427.60" y="185.80" font-size="5.0" text-anchor="middle" stroke-width="0.38">d12-14</text>
<text x="485.30" y="112.70" font-size="8.6" text-anchor="middle" font-style="italic" stroke-width="0.5">Cebpe</text>
<line x1="475.30" y1="151.40" x2="475.30" y2="156.00" stroke-width="1.3"/>
<line x1="472.94" y1="151.40" x2="477.67" y2="151.40" stroke-width="1.3"/>
<rect x="471.50" y="156.50" width="7.60" height="23.10" fill="#fff" stroke="#000" stroke-width="1.6"/>
<line x1="483.80" y1="159.00" x2="483.80" y2="161.40" stroke-width="1.3"/>
<line x1="481.49" y1="159.00" x2="486.11" y2="159.00" stroke-width="1.3"/>
<rect x="479.60" y="161.40" width="8.40" height="18.20" fill="#000"/>
<line x1="499.50" y1="168.40" x2="499.50" y2="174.60" stroke-width="1.3"/>
<line x1="497.02" y1="168.40" x2="501.98" y2="168.40" stroke-width="1.3"/>
<rect x="495.50" y="175.10" width="8.00" height="4.50" fill="#fff" stroke="#000" stroke-width="1.6"/>
<line x1="508.30" y1="126.60" x2="508.30" y2="157.00" stroke-width="1.3"/>
<line x1="505.94" y1="126.60" x2="510.67" y2="126.60" stroke-width="1.3"/>
<rect x="504.00" y="157.00" width="8.60" height="22.60" fill="#000"/>
<line x1="465.50" y1="119.70" x2="465.50" y2="180.60" stroke-width="2.0"/>
<line x1="464.50" y1="179.60" x2="514.00" y2="179.60" stroke-width="2.0"/>
<line x1="463.70" y1="121.30" x2="465.50" y2="121.30" stroke-width="1.0"/>
<text x="461.70" y="122.99" font-size="4.7" text-anchor="end" stroke-width="0.38">0.40</text>
<line x1="463.70" y1="128.59" x2="465.50" y2="128.59" stroke-width="1.0"/>
<text x="461.70" y="130.28" font-size="4.7" text-anchor="end" stroke-width="0.38">0.35</text>
<line x1="463.70" y1="135.88" x2="465.50" y2="135.88" stroke-width="1.0"/>
<text x="461.70" y="137.57" font-size="4.7" text-anchor="end" stroke-width="0.38">0.30</text>
<line x1="463.70" y1="143.16" x2="465.50" y2="143.16" stroke-width="1.0"/>
<text x="461.70" y="144.85" font-size="4.7" text-anchor="end" stroke-width="0.38">0.25</text>
<line x1="463.70" y1="150.45" x2="465.50" y2="150.45" stroke-width="1.0"/>
<text x="461.70" y="152.14" font-size="4.7" text-anchor="end" stroke-width="0.38">0.20</text>
<line x1="463.70" y1="157.74" x2="465.50" y2="157.74" stroke-width="1.0"/>
<text x="461.70" y="159.43" font-size="4.7" text-anchor="end" stroke-width="0.38">0.15</text>
<line x1="463.70" y1="165.02" x2="465.50" y2="165.02" stroke-width="1.0"/>
<text x="461.70" y="166.72" font-size="4.7" text-anchor="end" stroke-width="0.38">0.10</text>
<line x1="463.70" y1="172.31" x2="465.50" y2="172.31" stroke-width="1.0"/>
<text x="461.70" y="174.00" font-size="4.7" text-anchor="end" stroke-width="0.38">0.05</text>
<line x1="463.70" y1="179.60" x2="465.50" y2="179.60" stroke-width="1.0"/>
<text x="461.70" y="181.29" font-size="4.7" text-anchor="end" stroke-width="0.38">0.00</text>
<text x="480.00" y="186.00" font-size="5.0" text-anchor="middle" stroke-width="0.38">d4-5</text>
<text x="504.00" y="186.00" font-size="5.0" text-anchor="middle" stroke-width="0.38">d12-14</text>
<text x="413.30" y="205.20" font-size="8.6" text-anchor="middle" font-style="italic" stroke-width="0.5">Csf2ra</text>
<line x1="399.60" y1="261.60" x2="399.60" y2="263.00" stroke-width="1.3"/>
<line x1="397.40" y1="261.60" x2="401.80" y2="261.60" stroke-width="1.3"/>
<rect x="396.10" y="263.50" width="7.00" height="9.40" fill="#fff" stroke="#000" stroke-width="1.6"/>
<line x1="408.30" y1="222.00" x2="408.30" y2="248.40" stroke-width="1.3"/>
<line x1="406.60" y1="222.00" x2="410.00" y2="222.00" stroke-width="1.3"/>
<rect x="403.60" y="248.40" width="9.40" height="24.50" fill="#000"/>
<line x1="424.40" y1="240.40" x2="424.40" y2="245.00" stroke-width="1.3"/>
<line x1="422.20" y1="240.40" x2="426.60" y2="240.40" stroke-width="1.3"/>
<rect x="420.90" y="245.50" width="7.00" height="27.40" fill="#fff" stroke="#000" stroke-width="1.6"/>
<line x1="432.90" y1="226.40" x2="432.90" y2="237.60" stroke-width="1.3"/>
<line x1="430.42" y1="226.40" x2="435.38" y2="226.40" stroke-width="1.3"/>
<rect x="428.40" y="237.60" width="9.00" height="35.30" fill="#000"/>
<line x1="389.50" y1="215.40" x2="389.50" y2="273.90" stroke-width="2.0"/>
<line x1="388.50" y1="272.90" x2="438.40" y2="272.90" stroke-width="2.0"/>
<line x1="387.70" y1="216.20" x2="389.50" y2="216.20" stroke-width="1.0"/>
<text x="386.90" y="217.78" font-size="4.4" text-anchor="end" stroke-width="0.38">6</text>
<line x1="387.70" y1="225.65" x2="389.50" y2="225.65" stroke-width="1.0"/>
<text x="386.90" y="227.23" font-size="4.4" text-anchor="end" stroke-width="0.38">5</text>
<line x1="387.70" y1="235.10" x2="389.50" y2="235.10" stroke-width="1.0"/>
<text x="386.90" y="236.68" font-size="4.4" text-anchor="end" stroke-width="0.38">4</text>
<line x1="387.70" y1="244.55" x2="389.50" y2="244.55" stroke-width="1.0"/>
<text x="386.90" y="246.13" font-size="4.4" text-anchor="end" stroke-width="0.38">3</text>
<line x1="387.70" y1="254.00" x2="389.50" y2="254.00" stroke-width="1.0"/>
<text x="386.90" y="255.58" font-size="4.4" text-anchor="end" stroke-width="0.38">2</text>
<line x1="387.70" y1="263.45" x2="389.50" y2="263.45" stroke-width="1.0"/>
<text x="386.90" y="265.03" font-size="4.4" text-anchor="end" stroke-width="0.38">1</text>
<line x1="387.70" y1="272.90" x2="389.50" y2="272.90" stroke-width="1.0"/>
<text x="386.90" y="274.48" font-size="4.4" text-anchor="end" stroke-width="0.38">0</text>
<text x="403.60" y="280.20" font-size="5.0" text-anchor="middle" stroke-width="0.38">d4-5</text>
<text x="429.00" y="280.20" font-size="5.0" text-anchor="middle" stroke-width="0.38">d12-14</text>
<polyline points="399.40,231.50 399.40,217.20 408.40,217.20 408.40,222.50" fill="none" stroke="#000" stroke-width="1.4"/>
<polygon points="403.50,210.70 404.07,212.22 405.69,212.29 404.42,213.30 404.85,214.86 403.50,213.97 402.15,214.86 402.58,213.30 401.31,212.29 402.93,212.22" fill="#000" stroke="#000" stroke-width="0.3"/>
<text x="485.20" y="205.40" font-size="8.6" text-anchor="middle" font-style="italic" stroke-width="0.5">Gata1</text>
<line x1="475.00" y1="242.00" x2="475.00" y2="247.60" stroke-width="1.3"/>
<line x1="472.47" y1="242.00" x2="477.53" y2="242.00" stroke-width="1.3"/>
<rect x="470.90" y="248.10" width="8.20" height="25.20" fill="#fff" stroke="#000" stroke-width="1.6"/>
<line x1="484.00" y1="259.00" x2="484.00" y2="259.60" stroke-width="1.3"/>
<line x1="481.58" y1="259.00" x2="486.42" y2="259.00" stroke-width="1.3"/>
<rect x="479.60" y="259.60" width="8.80" height="13.70" fill="#000"/>
<line x1="500.50" y1="234.40" x2="500.50" y2="242.00" stroke-width="1.3"/>
<line x1="498.02" y1="234.40" x2="502.98" y2="234.40" stroke-width="1.3"/>
<rect x="496.50" y="242.50" width="8.00" height="30.80" fill="#fff" stroke="#000" stroke-width="1.6"/>
<line x1="509.70" y1="220.00" x2="509.70" y2="237.00" stroke-width="1.3"/>
<line x1="507.12" y1="220.00" x2="512.28" y2="220.00" stroke-width="1.3"/>
<rect x="505.00" y="237.00" width="9.40" height="36.30" fill="#000"/>
<line x1="464.90" y1="215.40" x2="464.90" y2="274.30" stroke-width="2.0"/>
<line x1="463.90" y1="273.30" x2="515.60" y2="273.30" stroke-width="2.0"/>
<line x1="463.10" y1="216.20" x2="464.90" y2="216.20" stroke-width="1.0"/>
<text x="462.30" y="218.00" font-size="5.0" text-anchor="end" stroke-width="0.38">0.25</text>
<line x1="463.10" y1="227.62" x2="464.90" y2="227.62" stroke-width="1.0"/>
<text x="462.30" y="229.42" font-size="5.0" text-anchor="end" stroke-width="0.38">0.20</text>
<line x1="463.10" y1="239.04" x2="464.90" y2="239.04" stroke-width="1.0"/>
<text x="462.30" y="240.84" font-size="5.0" text-anchor="end" stroke-width="0.38">0.15</text>
<line x1="463.10" y1="250.46" x2="464.90" y2="250.46" stroke-width="1.0"/>
<text x="462.30" y="252.26" font-size="5.0" text-anchor="end" stroke-width="0.38">0.10</text>
<line x1="463.10" y1="261.88" x2="464.90" y2="261.88" stroke-width="1.0"/>
<text x="462.30" y="263.68" font-size="5.0" text-anchor="end" stroke-width="0.38">0.05</text>
<line x1="463.10" y1="273.30" x2="464.90" y2="273.30" stroke-width="1.0"/>
<text x="462.30" y="275.10" font-size="5.0" text-anchor="end" stroke-width="0.38">0.00</text>
<text x="479.60" y="280.20" font-size="5.0" text-anchor="middle" stroke-width="0.38">d4-5</text>
<text x="504.40" y="280.20" font-size="5.0" text-anchor="middle" stroke-width="0.38">d12-14</text>
<text x="10.50" y="8.30" font-size="11.9" text-anchor="start" stroke-width="0.5">A</text>
<text x="361.00" y="12.20" font-size="10.7" text-anchor="start" stroke-width="0.5">B</text>
<text x="8.00" y="149.50" font-size="10.4" text-anchor="middle" transform="rotate(-90 8.00 149.50)" stroke-width="0.55">Normalized expression</text>
<text x="369.60" y="145.60" font-size="10.3" text-anchor="middle" transform="rotate(-90 369.60 145.60)" stroke-width="0.55">Normalized expression</text>
</svg>
</body></html>
